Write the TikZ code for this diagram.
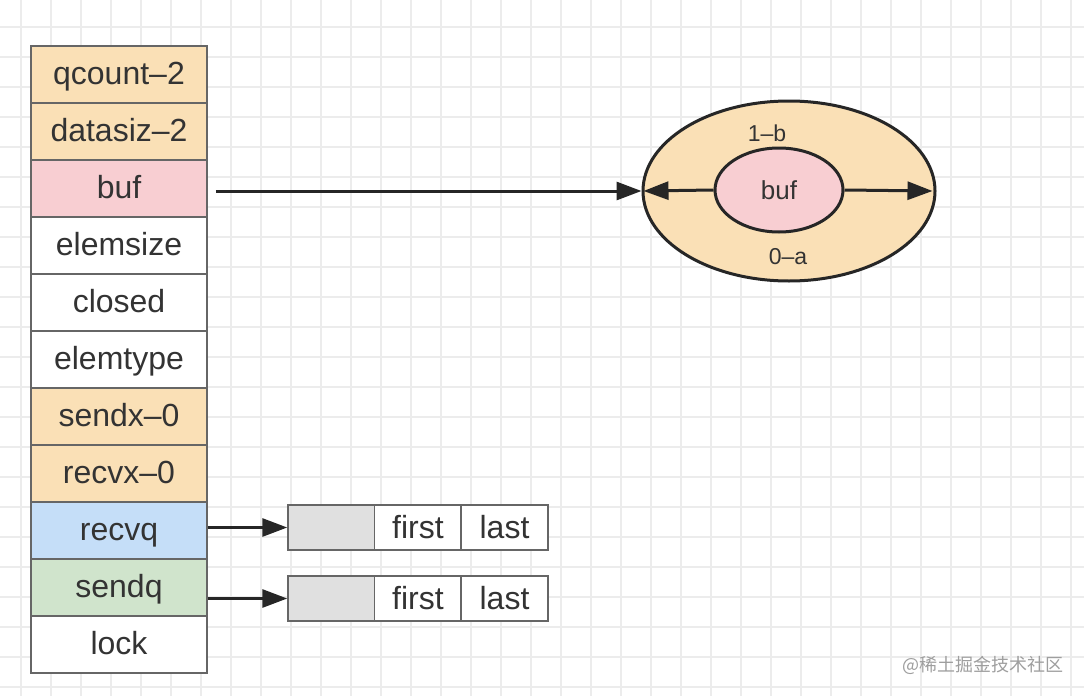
\documentclass[tikz,border=0pt]{standalone}
\usepackage{fontspec}
\setmainfont{Liberation Sans}
\newfontfamily\cjk{Noto Sans CJK SC}
\usetikzlibrary{arrows.meta,shapes.geometric}
\definecolor{orng}{RGB}{250,224,182}
\definecolor{pnk}{RGB}{248,206,210}
\definecolor{blu}{RGB}{197,222,248}
\definecolor{grn}{RGB}{208,228,204}
\definecolor{gry}{RGB}{224,224,224}
\definecolor{bord}{RGB}{102,102,102}
\definecolor{txt}{RGB}{51,51,51}
\definecolor{gridc}{RGB}{236,236,236}
\definecolor{arrc}{RGB}{38,38,38}
\tikzset{
  gridline/.style={draw=gridc, line width=1.6pt},
  cell/.style={draw=bord, line width=1.5pt, minimum width=176pt, minimum height=57pt,
    inner sep=0pt, text=txt, font=\fontsize{32}{38}\selectfont,
    text height=20pt, text depth=0pt},
  qcell/.style={draw=bord, line width=1.5pt, minimum width=87pt, minimum height=45pt,
    inner sep=0pt, text=txt, font=\fontsize{32}{38}\selectfont,
    text height=21pt, text depth=0pt},
  arr/.style={draw=arrc, line width=3pt, -{Triangle[length=25pt,width=18pt]}},
  ell/.style={ellipse, draw=arrc, line width=3pt, inner sep=0pt},
  lbl/.style={text=txt, inner sep=0pt, font=\fontsize{23}{26}\selectfont}
}
\begin{document}
\begin{tikzpicture}[x=1pt,y=-1pt]
\useasboundingbox (0,0) rectangle (1084,696);
\fill[white] (0,0) rectangle (1084,696);
\foreach \x in {21,51,...,1071} \draw[gridline] (\x,0) -- (\x,696);
\foreach \y in {27,57,...,687} \draw[gridline] (0,\y) -- (1084,\y);

% table
\node[cell, fill=orng] (qcount) at (119,74.5) {qcount–2};
\node[cell, fill=orng] (datasiz) at (119,131.5) {datasiz–2};
\node[cell, fill=pnk] (buf) at (119,188.5) {buf};
\node[cell, fill=white] (elemsize) at (119,245.5) {elemsize};
\node[cell, fill=white] (closed) at (119,302.5) {closed};
\node[cell, fill=white] (elemtype) at (119,359.5) {elemtype};
\node[cell, fill=orng] (sendx) at (119,416.5) {sendx–0};
\node[cell, fill=orng] (recvx) at (119,473.5) {recvx–0};
\node[cell, fill=blu] (recvq) at (119,530.5) {recvq};
\node[cell, fill=grn] (sendq) at (119,587.5) {sendq};
\node[cell, fill=white] (lock) at (119,644.5) {lock};

% queues
\node[qcell, fill=gry] (rq0) at (331.5,527.5) {};
\node[qcell, fill=white] (rq1) at (418,527.5) {first};
\node[qcell, fill=white] (rq2) at (504.5,527.5) {last};
\node[qcell, fill=gry] (sq0) at (331.5,598.5) {};
\node[qcell, fill=white] (sq1) at (418,598.5) {first};
\node[qcell, fill=white] (sq2) at (504.5,598.5) {last};

\draw[arr] (recvq.east |- rq0.west) -- (rq0.west);
\draw[arr] (sendq.east |- sq0.west) -- (sq0.west);

% ellipses
\node[ell, fill=orng, minimum width=292pt, minimum height=180pt] (outer) at (789,191) {};
\node[ell, fill=pnk, minimum width=128pt, minimum height=84pt, text=txt,
  font=\fontsize{26}{30}\selectfont] (inner) at (779,190) {buf};
\node[lbl] (lb) at (767,133) {1–b};
\node[lbl] (la) at (788,257) {0–a};

\coordinate (bufstart) at ([xshift=8pt]buf.east |- outer.west);
\draw[arr] (bufstart) -- (outer.west);
\draw[arr] (inner.west) -- ([xshift=2pt]outer.west);
\draw[arr] (inner.east) -- ([xshift=-4pt]outer.east);

\node[text=black!38, inner sep=0pt, font=\cjk\fontsize{18}{22}\selectfont] (wm) at (983,665) {@稀土掘金技术社区};
\end{tikzpicture}
\end{document}
